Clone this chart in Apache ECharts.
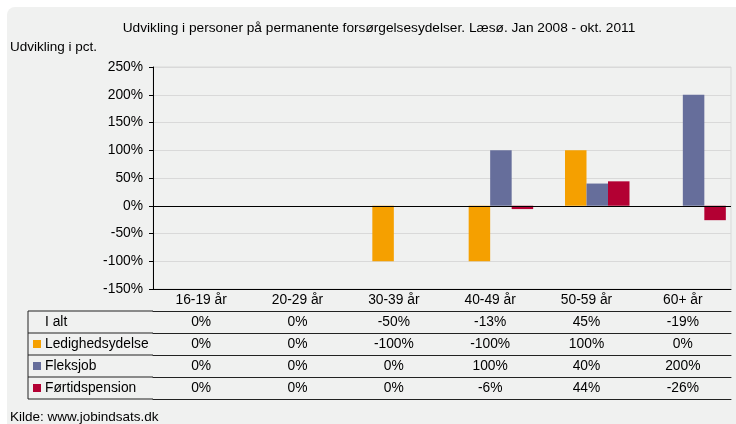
<!DOCTYPE html>
<html>
	<head>
		<title>Læsø forsørgelsesydelser</title>
		<meta charset="UTF-8">
		<script src="https://cdn.jsdelivr.net/npm/echarts@6/dist/echarts.min.js" type="text/javascript"></script>
		<style>
			html, body { margin: 0; padding: 0; background: #fff; }
			#chart { width: 736px; height: 424px; }
		</style>
	</head>
	<body>
		<div id="chart"></div>
		<script type="text/javascript">
			// data
			var ages = ['16-19 år', '20-29 år', '30-39 år', '40-49 år', '50-59 år', '60+ år'];
			var seriesNames = ['I alt', 'Ledighedsydelse', 'Fleksjob', 'Førtidspension'];
			var iAlt = [0, 0, -50, -13, 45, -19];
			var ledighed = [0, 0, -100, -100, 100, 0];
			var fleksjob = [0, 0, 0, 100, 40, 200];
			var foertid = [0, 0, 0, -6, 44, -26];
			var yTicks = [-150, -100, -50, 0, 50, 100, 150, 200, 250];

			var rows = [iAlt, ledighed, fleksjob, foertid];
			var colors = ['transparent', '#f5a000', '#666e9b', '#b30033'];

			var font = 'Liberation Sans, Arial, sans-serif';
			var fs = 13.8;
			var gridLeft = 153, gridRight = 731, gridTop = 67, gridBottom = 289;
			var rowH = 22;
			var tableLeft = 28;
			var lineColor = '#222';

			// one extra x axis per table row, labels come from the row arrays
			var xAxes = [{
				type: 'category',
				data: ages,
				position: 'bottom',
				axisLine: { onZero: false, lineStyle: { color: '#000' } },
				axisTick: { length: rowH, lineStyle: { color: lineColor } },
				axisLabel: { margin: 4, fontSize: fs, fontFamily: font, color: '#000' }
			}];
			rows.forEach(function (row, i) {
				xAxes.push({
					type: 'category',
					data: ages,
					position: 'bottom',
					offset: rowH * (i + 1),
					axisLine: { onZero: false, lineStyle: { color: lineColor } },
					axisTick: { length: rowH, lineStyle: { color: lineColor } },
					axisLabel: {
						margin: 4, fontSize: fs, fontFamily: font, color: '#000',
						formatter: function (v, idx) { return row[idx] + '%'; }
					}
				});
			});
			xAxes.push({
				type: 'category',
				data: ages,
				position: 'bottom',
				offset: rowH * 5,
				axisLine: { onZero: false, lineStyle: { color: lineColor } },
				axisTick: { show: false },
				axisLabel: { show: false }
			});

			var tableBottom = gridBottom + rowH * 5;
			var leftLines = [];
			for (var r = 1; r <= 5; r++) {
				var y = gridBottom + rowH * r;
				leftLines.push({
					type: 'line',
					shape: { x1: tableLeft, y1: y, x2: gridLeft, y2: y },
					style: { stroke: lineColor, lineWidth: 1 }
				});
			}
			leftLines.push({
				type: 'line',
				shape: { x1: tableLeft, y1: gridBottom + rowH, x2: tableLeft, y2: tableBottom },
				style: { stroke: lineColor, lineWidth: 1 }
			});

			var series = rows.map(function (row, i) {
				var s = {
					name: seriesNames[i],
					type: 'bar',
					data: row,
					barWidth: 21.5,
					barGap: '0%',
					itemStyle: { color: colors[i] },
					silent: true
				};
				if (i === 0) {
					s.markLine = {
						silent: true,
						symbol: 'none',
						label: { show: false },
						lineStyle: { color: '#000', type: 'solid', width: 1 },
						data: [{ yAxis: 0 }]
					};
				}
				return s;
			});

			var option = {
				animation: false,
				backgroundColor: '#fff',
				title: {
					text: 'Udvikling i personer på permanente forsørgelsesydelser. Læsø. Jan 2008 - okt. 2011',
					left: 374,
					textAlign: 'center',
					top: 16,
					textStyle: { fontSize: 13.7, fontWeight: 'normal', fontFamily: font, color: '#000' }
				},
				grid: {
					left: gridLeft,
					right: 736 - gridRight,
					top: gridTop,
					bottom: 424 - gridBottom,
					show: true,
					borderColor: '#d9d9d9',
					borderWidth: 1,
					backgroundColor: 'transparent'
				},
				legend: {
					orient: 'vertical',
					left: 33,
					top: gridBottom + rowH,
					padding: 0,
					itemWidth: 8,
					itemHeight: 8,
					itemGap: 0,
					icon: 'rect',
					selectedMode: false,
					data: seriesNames,
					textStyle: { fontSize: fs, fontFamily: font, color: '#000', lineHeight: rowH, height: rowH, padding: [0, 0, 0, -1] }
				},
				xAxis: xAxes,
				yAxis: {
					type: 'value',
					min: yTicks[0],
					max: yTicks[yTicks.length - 1],
					interval: 50,
					axisLine: { show: true, lineStyle: { color: '#000' } },
					axisTick: { show: true, length: 4, lineStyle: { color: '#000' } },
					axisLabel: {
						margin: 10, fontSize: fs, fontFamily: font, color: '#000',
						formatter: function (v) { return v + '%'; }
					},
					splitLine: { lineStyle: { color: '#d9d9d9' } }
				},
				graphic: [{
					type: 'rect',
					z: -10,
					shape: { x: 7, y: 7, width: 740, height: 440, r: 8 },
					style: { fill: '#f0f1f0' }
				}, {
					type: 'text',
					left: 10,
					top: 40,
					style: { text: 'Udvikling i pct.', fontSize: 13.5, fontFamily: font, fill: '#000' }
				}, {
					type: 'text',
					left: 10,
					top: 410,
					style: { text: 'Kilde: www.jobindsats.dk', fontSize: 13.5, fontFamily: font, fill: '#000' }
				}].concat(leftLines),
				series: series
			};

			var chart = echarts.init(document.getElementById('chart'));
			chart.setOption(option);
		</script>
	</body>
</html>
